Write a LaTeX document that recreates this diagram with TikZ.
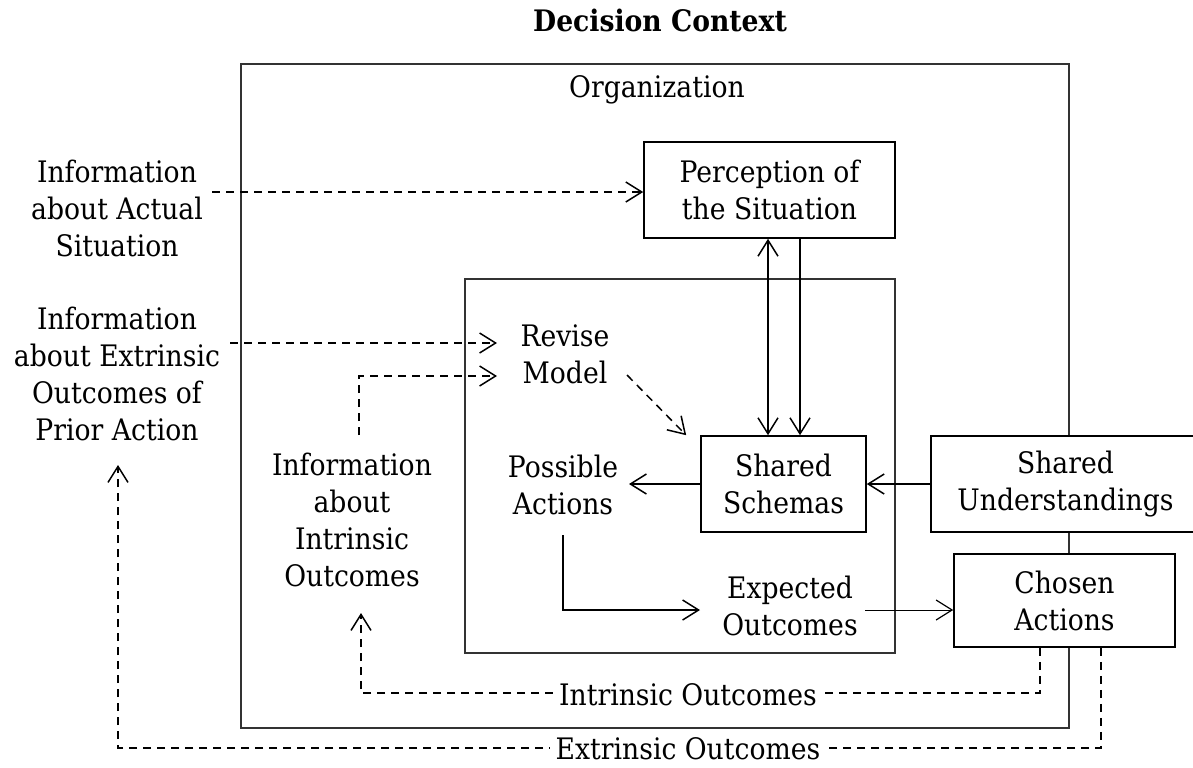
\documentclass[tikz,border=0pt]{standalone}
\usepackage{fontspec}
\setmainfont{DejaVu Serif}[FakeStretch=0.9]
\usetikzlibrary{arrows.meta,calc}
\begin{document}
\begin{tikzpicture}[x=0.5pt,y=-0.5pt,
  every node/.style={font=\fontsize{14.8}{18.5}\selectfont, inner sep=0pt},
  lbl/.style={align=center},
  bx/.style={draw, fill=white, line width=0.8pt, align=center},
  sol/.style={line width=0.9pt, -{Straight Barb[length=8pt,width=10pt,line width=0.75pt]}},
  thinarr/.style={line width=0.5pt, -{Straight Barb[length=8pt,width=10pt,line width=0.6pt]}},
  dsh/.style={line width=0.75pt, dash pattern=on 4pt off 3pt, -{Straight Barb[length=8pt,width=10pt,line width=0.75pt]}},
  cont/.style={draw=black!80, line width=0.7pt},
]
\useasboundingbox (0,0) rectangle (1193,767);

% containers
\node[cont, minimum width=414pt, minimum height=332pt] (org) at (655,396) {};
\node[cont, minimum width=215pt, minimum height=187pt] (inner) at (680,466) {};

% titles
\node[anchor=base, font=\fontsize{14.8}{18.5}\selectfont\bfseries] (title) at (660,31) {Decision Context};
\node[anchor=base] (orglbl) at (657,97) {Organization};

% boxes
\node[bx, minimum width=125.5pt, minimum height=48pt] (perc) at (769.5,190) {Perception of\\the Situation};
\node[bx, minimum width=82.5pt, minimum height=48pt] (schem) at (783.5,484) {Shared\\Schemas};
\node[bx, minimum width=134.5pt, minimum height=48pt] (su) at (1065.5,484) {Shared\\Understandings};
\node[bx, minimum width=110.5pt, minimum height=46.5pt] (chosen) at (1064.5,600.5) {Chosen\\Actions};

% free labels (base = baseline of last line)
\node[lbl, anchor=base] (actual) at (117,256) {Information\\about Actual\\Situation};
\node[lbl, anchor=base] (extinfo) at (117,440) {Information\\about Extrinsic\\Outcomes of\\Prior Action};
\node[lbl, anchor=base] (revise) at (565,383) {Revise\\Model};
\node[lbl, anchor=base] (intinfo) at (352,586) {Information\\about\\Intrinsic\\Outcomes};
\node[lbl, anchor=base] (poss) at (563,514) {Possible\\Actions};
\node[lbl, anchor=base] (expo) at (790,635) {Expected\\Outcomes};

% helper coordinates
\coordinate (aStart) at (212,192);
\coordinate (eStart) at (230,343);
\coordinate (rIn1) at (497,343);
\coordinate (rIn2) at (497,376);
\coordinate (iUp) at (359,435);
\coordinate (rOut) at (627,375);
\coordinate (pTip) at (629,484);
\coordinate (pDown) at (563,535);
\coordinate (eIn) at (700,610);
\coordinate (eOut) at (865,610);
\coordinate (iTip) at (361,613);
\coordinate (iCorner) at (361,693);
\coordinate (xTip) at (118,465);
\coordinate (xCorner) at (118,748);

% connectors
\draw[dsh] (aStart) -- (aStart -| perc.west);
\draw[dsh] (eStart) -- (rIn1);
\draw[dsh] (iUp) |- (rIn2);
\draw[dsh] (rOut) -- ([xshift=-7pt]schem.north west);
\draw[line width=0.9pt, {Straight Barb[length=8pt,width=10pt,line width=0.75pt]}-{Straight Barb[length=8pt,width=10pt,line width=0.75pt]}]
  ([xshift=-0.75pt]perc.south) -- ([xshift=-0.75pt]perc.south |- schem.north);
\draw[sol] ([xshift=15.25pt]perc.south) -- ([xshift=15.25pt]perc.south |- schem.north);
\draw[sol] (schem.west) -- (pTip);
\draw[sol] (su.west) -- (schem.east);
\draw[sol] (pDown) |- (eIn);
\draw[thinarr] (eOut) -- (eOut -| chosen.west);

\draw[dsh] ([xshift=-12.25pt]chosen.south) |- (iCorner) -- (iTip);
\draw[dsh] ([xshift=18.25pt]chosen.south) |- (xCorner) -- (xTip);

\node[anchor=base, fill=white, inner sep=3pt] (intout) at (688,705) {Intrinsic Outcomes};
\node[anchor=base, fill=white, inner sep=3pt] (extout) at (688,759) {Extrinsic Outcomes};
\end{tikzpicture}
\end{document}
